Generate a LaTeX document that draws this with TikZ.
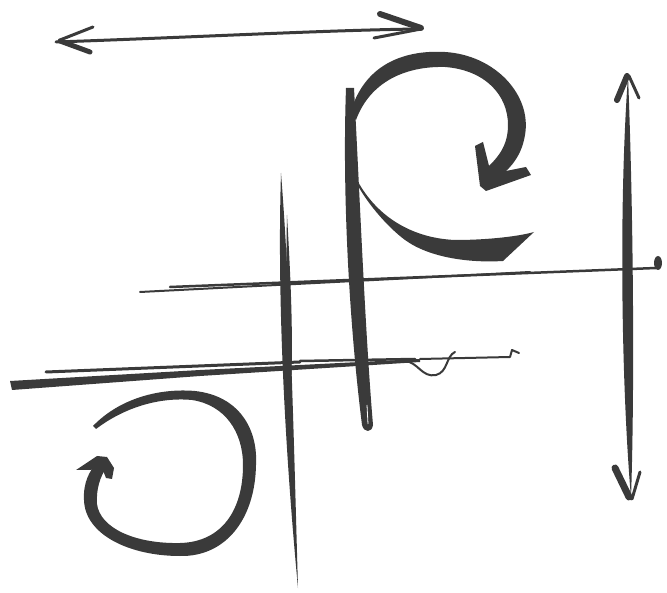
\documentclass[tikz,border=0pt]{standalone}
\usepackage{tikz}
\usepackage{xcolor}
\definecolor{inkgrey}{HTML}{3A3A3A}
\tikzstyle{ink} = [fill=inkgrey]
\tikzstyle{brush} = [draw=inkgrey, line cap=round, line join=round]
\begin{document}
\begin{tikzpicture}[x=1pt, y=-1pt]
        \useasboundingbox (0,0) rectangle (667,593);
        % top double arrow
        \draw[brush, line width=3pt] (56,42) .. controls (200,37) and (330,30) .. (420,29);
        \draw[brush, line width=3pt] (93,27) -- (60,40);
        \draw[brush, line width=5pt] (60,41) -- (90,52);
        \draw[brush, line width=6pt] (380,14) -- (421,28);
        \draw[brush, line width=3pt] (421,29) -- (374,38);
        % right double arrow
        \fill[ink] (628,76) .. controls (619,200) and (621,380) .. (631,498) .. controls (635,380) and (633,200) .. (628,76) -- cycle;
        \draw[brush, line width=6pt] (617,100) -- (627,76);
        \draw[brush, line width=3pt] (629,76) -- (639,98);
        \draw[brush, line width=7pt] (615,468) -- (629,497);
        \draw[brush, line width=3pt] (640,472) -- (632,499);
        % upper horizontal
        \draw[brush, line width=2pt] (140,292) -- (530,272);
        \draw[brush, line width=2.5pt] (170,287) -- (656,268);
        \fill[ink] (658,263) ellipse (4 and 7);
        % lower horizontal
        \fill[ink] (10,381) -- (200,370) -- (420,359) -- (420,362) -- (200,376) -- (12,390) -- cycle;
        \draw[brush, line width=3pt] (46,372) -- (300,362);
        \draw[brush, line width=2.5pt] (300,361) -- (415,359);
        \draw[brush, line width=2pt] (405,361) .. controls (418,362) and (422,378) .. (436,375) .. controls (448,372) and (446,356) .. (455,352);
        \draw[brush, line width=2pt] (420,359) -- (510,357) -- (512,350) -- (519,353);
        % vertical strokes
        \fill[ink] (281,173) .. controls (277,300) and (285,450) .. (298,588) .. controls (294,450) and (291,300) .. (281,173) -- cycle;
        \fill[ink] (287,215) .. controls (285,300) and (289,360) .. (289,420) .. controls (294,360) and (292,300) .. (287,215) -- cycle;
        \fill[ink] (346,88) .. controls (342,200) and (350,330) .. (362,425) .. controls (364,433) and (372,433) .. (373,425) .. controls (365,330) and (360,200) .. (354,88) -- cycle;
        \draw[white, line width=0.8pt] (367,405) -- (368,424);
        % upper curl arrow
        \fill[ink] (350,114) .. controls (365,60) and (410,50) .. (445,52) .. controls (495,55) and (532,95) .. (525,135) .. controls (521,160) and (506,172) .. (494,181)
            -- (482,172) .. controls (499,158) and (508,145) .. (508,125) .. controls (508,95) and (485,70) .. (445,67) .. controls (405,66) and (370,82) .. (356,120) -- cycle;
        \fill[ink] (475,146) -- (483,142) -- (491,174) -- (526,167) -- (531,175) -- (486,191) -- (480,186) -- cycle;
        \fill[ink] (356,178) .. controls (375,215) and (410,238) .. (455,240) .. controls (490,240) and (520,236) .. (534,232) -- (503,261)
            .. controls (470,263) and (430,258) .. (405,240) .. controls (385,225) and (365,200) .. (356,182) -- cycle;
        % lower spiral arrow
        \fill[ink] (93,426) .. controls (120,398) and (160,388) .. (195,391) .. controls (240,396) and (258,430) .. (256,465) .. controls (255,520) and (225,557) .. (180,556)
            .. controls (130,556) and (85,535) .. (84,500) .. controls (83,482) and (90,470) .. (97,463)
            -- (107,467) .. controls (100,476) and (96,490) .. (97,504) .. controls (100,528) and (135,544) .. (180,543) .. controls (222,542) and (243,510) .. (243,465)
            .. controls (243,432) and (225,405) .. (192,400) .. controls (160,397) and (125,407) .. (96,429) -- cycle;
        \fill[ink] (76,470) -- (97,456) -- (107,457) -- (114,468) -- (112,479) -- (106,478) -- (102,468) -- (90,470) -- cycle;
    \end{tikzpicture}
\end{document}
